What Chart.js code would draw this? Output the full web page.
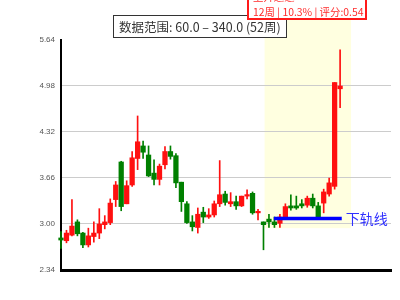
<!DOCTYPE html>
<html>
<head>
<meta charset="utf-8">
<script src="https://cdn.jsdelivr.net/npm/chart.js@4.4.0/dist/chart.umd.min.js"></script>
<style>
  html, body { margin: 0; padding: 0; background: #fff; }
</style>
</head>
<body>
<canvas id="kline" width="400" height="300"></canvas>
<script>
// weekly candles (red = up, green = down)
const opens  = [2.80, 2.76, 2.84, 3.03, 2.87, 2.70, 2.82, 2.87, 2.99, 3.02,
                3.35, 3.89, 3.29, 3.56, 3.94, 4.12, 3.99, 3.73, 3.64, 3.85,
                4.04, 3.98, 3.60, 3.29, 3.03, 2.95, 3.17, 3.10, 3.13, 3.29,
                3.43, 3.29, 3.32, 3.26, 3.40, 3.44, 3.16, 3.03, 3.07, 3.03,
                3.01, 3.08, 3.26, 3.26, 3.29, 3.27, 3.37, 3.26, 3.30, 3.43,
                3.54, 4.94]
const highs  = [2.89, 2.91, 3.35, 3.06, 2.88, 2.94, 3.03, 3.22, 3.12, 3.36,
                3.61, 3.90, 3.62, 4.04, 4.55, 4.19, 4.12, 3.92, 3.86, 4.11,
                4.12, 4.01, 3.60, 3.32, 3.12, 3.23, 3.24, 3.22, 3.33, 3.91,
                3.47, 3.45, 3.40, 3.40, 3.49, 3.46, 3.21, 3.03, 3.14, 3.10,
                3.14, 3.29, 3.42, 3.40, 3.35, 3.40, 3.43, 3.31, 3.50, 3.66,
                5.03, 5.50]
const lows   = [2.65, 2.73, 2.83, 2.83, 2.66, 2.67, 2.74, 2.79, 2.93, 2.99,
                3.25, 3.19, 3.29, 3.54, 3.78, 3.94, 3.68, 3.56, 3.56, 3.79,
                3.93, 3.52, 3.18, 3.01, 2.90, 2.87, 3.02, 3.08, 3.10, 3.25,
                3.27, 3.25, 3.21, 3.25, 3.36, 3.14, 3.06, 2.63, 2.95, 2.95,
                2.95, 3.08, 3.20, 3.21, 3.23, 3.24, 3.23, 3.10, 3.16, 3.40,
                3.50, 4.67]
const closes = [2.77, 2.87, 2.97, 2.86, 2.70, 2.83, 2.87, 3.00, 3.03, 3.30,
                3.56, 3.25, 3.55, 3.95, 4.18, 4.03, 3.69, 3.64, 3.83, 4.04,
                3.97, 3.59, 3.32, 3.02, 2.96, 3.14, 3.10, 3.13, 3.29, 3.42,
                3.31, 3.32, 3.26, 3.40, 3.42, 3.16, 3.18, 2.99, 3.03, 2.99,
                3.10, 3.25, 3.23, 3.23, 3.26, 3.37, 3.26, 3.10, 3.46, 3.59,
                5.03, 4.98]
const yTicks = [2.34, 3.00, 3.66, 4.32, 4.98, 5.64]

// channel found by the scan
const supportWeeks = [38.9, 51.3]
const supportLevel = 3.08
const highlightWeeks = [37.2, 53.0]
const highlightFloor = 2.94

const rangeText = "数据范围: 60.0 – 340.0 (52周)"
const channelTitle = "上升通道"
const channelInfo = "12周 | 10.3% | 评分:0.54"
const supportText = "下轨线"

const colors = opens.map((o, i) => closes[i] >= o ? "#ff1010" : "#008000")
const bodies = opens.map((o, i) => ({ x: i, y: [o, closes[i]] }))
const wicks = opens.map((o, i) => ({ x: i, y: [lows[i], highs[i]] }))

const channelPlugin = {
    id: "channel",
    beforeDraw(chart) {
        const { ctx, scales: { x, y } } = chart
        const left = x.getPixelForValue(highlightWeeks[0])
        const right = x.getPixelForValue(highlightWeeks[1])
        const bottom = y.getPixelForValue(highlightFloor)
        ctx.save()
        ctx.fillStyle = "#ffffe0"
        ctx.fillRect(left, 20, right - left, bottom - 20)
        ctx.restore()
    },
    afterDraw(chart) {
        const { ctx, scales: { x, y } } = chart
        ctx.save()
        // support line label
        ctx.font = "14px 'Noto Sans CJK SC'"
        ctx.fillStyle = "#3030ff"
        ctx.textBaseline = "middle"
        ctx.fillText(supportText, x.getPixelForValue(supportWeeks[1]) + 4, y.getPixelForValue(supportLevel))

        // data range box
        ctx.fillStyle = "#fff"
        ctx.fillRect(113.5, 15.5, 173, 22)
        ctx.strokeStyle = "#333"
        ctx.lineWidth = 1
        ctx.strokeRect(113.5, 15.5, 173, 22)
        ctx.fillStyle = "#333"
        ctx.font = "12.5px 'Noto Sans CJK SC'"
        ctx.fillText(rangeText, 119, 27)

        // channel info box
        ctx.fillStyle = "#fff"
        ctx.fillRect(248, -10, 118, 29)
        ctx.strokeStyle = "#ff1a1a"
        ctx.lineWidth = 2
        ctx.strokeRect(248, -10, 118, 29)
        ctx.fillStyle = "#ff2a2a"
        ctx.font = "10.4px 'Noto Sans CJK SC'"
        ctx.fillText(channelTitle, 253, -3)
        ctx.fillText(channelInfo, 253, 12)
        ctx.restore()
    }
}

new Chart(document.getElementById("kline"), {
    type: "bar",
    data: {
        datasets: [
            {
                type: "line",
                data: supportWeeks.map(w => ({ x: w, y: supportLevel })),
                borderColor: "#0000ff",
                borderWidth: 3.5,
                pointRadius: 0,
                clip: false,
                order: 0
            },
            {
                data: bodies,
                backgroundColor: colors,
                barThickness: 4.6,
                minBarLength: 1.5,
                grouped: false,
                clip: false,
                order: 1
            },
            {
                data: wicks,
                backgroundColor: colors,
                barThickness: 1,
                grouped: false,
                clip: false,
                order: 2
            }
        ]
    },
    options: {
        responsive: false,
        animation: false,
        devicePixelRatio: 1,
        layout: { padding: { left: 0, top: 40, right: 9, bottom: 30 } },
        plugins: { legend: { display: false }, tooltip: { enabled: false } },
        scales: {
            x: {
                type: "linear",
                offset: false,
                min: 0,
                max: 60.3,
                grid: { display: false },
                ticks: { display: false },
                border: { color: "#000", width: 3 },
                afterFit: s => { s.height = 0 }
            },
            y: {
                min: 2.34,
                max: 5.64,
                afterBuildTicks: s => { s.ticks = yTicks.map(v => ({ value: v })) },
                ticks: {
                    padding: 6,
                    color: "#555",
                    font: { size: 8, family: "'Liberation Sans', Arial" },
                    callback: v => v.toFixed(2)
                },
                grid: {
                    drawTicks: false,
                    color: c => c.tick && c.tick.value > 5.6 ? "rgba(0,0,0,0)" : "#cccccc"
                },
                border: { color: "#000", width: 2 },
                afterFit: s => { s.width = 61 }
            }
        }
    },
    plugins: [channelPlugin]
})
</script>
</body>
</html>
